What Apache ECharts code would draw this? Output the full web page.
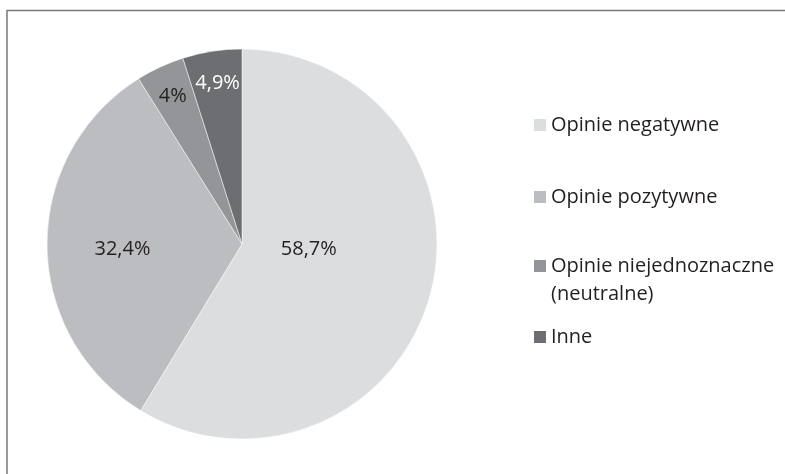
<!DOCTYPE html>
<html>
<head>
<meta charset="utf-8">
<script src="https://cdn.jsdelivr.net/npm/echarts@6/dist/echarts.min.js"></script>
<style>
html,body{margin:0;padding:0;background:#fff;}
#chart{width:785px;height:474px;}
</style>
</head>
<body>
<div id="chart"></div>
<script>
var categories = ['Opinie negatywne', 'Opinie pozytywne', 'Opinie niejednoznaczne (neutralne)', 'Inne'];
var values = [58.7, 32.4, 4, 4.9];
var labels = ['58,7%', '32,4%', '4%', '4,9%'];

var colors = ['#dcdddf', '#bcbdc0', '#939598', '#6d6e71'];
var labelColors = ['#231f20', '#231f20', '#231f20', '#ffffff'];
var labelShift = [[-30, -22], [-19, 5], [-27, -57], [-9, -61]];
var legendTops = [111, 183, 224, 323];

var chart = echarts.init(document.getElementById('chart'), null, {renderer: 'canvas'});

var data = categories.map(function (c, i) {
  return {
    name: c,
    value: values[i],
    itemStyle: {color: colors[i]},
    label: {color: labelColors[i]}
  };
});

var legends = categories.map(function (c, i) {
  var multi = i === 2;
  return {
    left: 534,
    top: legendTops[i],
    orient: 'vertical',
    padding: 0,
    selectedMode: false,
    icon: 'rect',
    itemWidth: 12,
    itemHeight: 12,
    itemStyle: {borderWidth: 0},
    data: [c],
    formatter: function (name) {
      return multi ? '\nOpinie niejednoznaczne\n(neutralne)' : name;
    },
    textStyle: {
      fontFamily: 'Open Sans',
      fontSize: 20,
      lineHeight: 28,
      color: '#231f20'
    }
  };
});

chart.setOption({
  animation: false,
  graphic: [{
    type: 'polyline',
    shape: {points: [[7, 474], [7, 10.5], [785, 10.5]]},
    style: {stroke: '#7a7a7a', lineWidth: 1.5, fill: null},
    silent: true
  }],
  legend: legends,
  series: [{
    type: 'pie',
    center: [242, 244],
    radius: 195,
    startAngle: 90,
    clockwise: true,
    silent: true,
    itemStyle: {borderColor: '#ffffff', borderWidth: 0.5},
    label: {
      show: true,
      position: 'inside',
      fontFamily: 'Open Sans',
      fontSize: 20,
      formatter: function (p) { return labels[p.dataIndex]; }
    },
    labelLine: {show: false},
    labelLayout: function (params) {
      var s = labelShift[params.dataIndex];
      return {dx: s[0], dy: s[1]};
    },
    data: data
  }]
});
</script>
</body>
</html>
